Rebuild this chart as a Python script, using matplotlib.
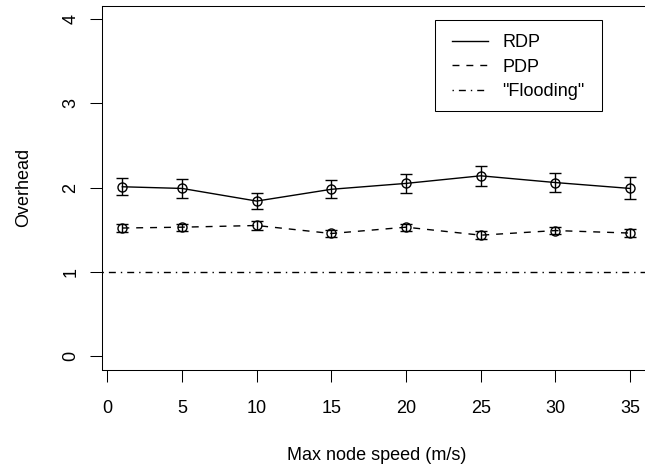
import numpy as np
import matplotlib
matplotlib.use("Agg")
import matplotlib.pyplot as plt
from matplotlib.lines import Line2D
from matplotlib.patches import Rectangle

plt.rcParams['font.family'] = ['Liberation Sans', 'DejaVu Sans']

# data
speed = [1, 5, 10, 15, 20, 25, 30, 35]
rdp = [2.01, 1.99, 1.84, 1.98, 2.05, 2.14, 2.06, 1.99]
rdp_err = [0.10, 0.11, 0.10, 0.105, 0.11, 0.12, 0.115, 0.13]
pdp = [1.52, 1.53, 1.55, 1.455, 1.53, 1.435, 1.49, 1.46]
pdp_err = [0.05, 0.043, 0.055, 0.043, 0.041, 0.047, 0.045, 0.047]
flooding = 1.0
xticks = [0, 5, 10, 15, 20, 25, 30, 35]
yticks = [0, 1, 2, 3, 4]
labels = ["RDP", "PDP", "\"Flooding\""]

W, H = 645, 468
fig = plt.figure(figsize=(W / 100, H / 100), dpi=100)
# plot region in pixels (R style, right edge cut off by the image)
left, right, top, bottom = 102, 650.4, 5.7, 369.5
ax = fig.add_axes([left / W, 1 - bottom / H, (right - left) / W, (bottom - top) / H])

fs = 13
dotdash = (0, (1, 3.6, 5, 3.6))

ax.errorbar(speed, rdp, yerr=rdp_err, color='black', lw=1.0, ls='-',
            marker='o', ms=6.5, mfc='none', mew=1.0, capsize=4.6, elinewidth=1.0)
ax.errorbar(speed, pdp, yerr=pdp_err, color='black', lw=1.0, ls=(0, (5, 5)),
            marker='o', ms=6.5, mfc='none', mew=1.0, capsize=4.6, elinewidth=1.0)
ax.axhline(flooding, color='black', lw=1.0, ls=dotdash)

ax.set_xlim(-0.36, 36.36)
ax.set_ylim(-0.16, 4.16)
ax.set_xticks(xticks)
ax.set_yticks(yticks)
ax.set_xticklabels([str(v) for v in xticks], fontsize=fs)
ax.set_yticklabels([str(v) for v in yticks], fontsize=fs, rotation=90, va='center')
ax.tick_params(direction='out', length=8.3, width=0.75, color='black')
ax.tick_params(axis='x', pad=14)
ax.tick_params(axis='y', pad=8)
for s in ax.spines.values():
    s.set_linewidth(0.75)

ax.set_xlabel("Max node speed (m/s)", fontsize=fs, va='center')
ax.xaxis.set_label_coords(0.5, (H - 455 - (H - bottom)) / (bottom - top))
ax.set_ylabel("Overhead", fontsize=fs, va='center')
ax.yaxis.set_label_coords((24 - left) / (right - left), 0.5)

# legend (R style box)
handles = [Line2D([], [], color='black', lw=1.0, ls='-'),
           Line2D([], [], color='black', lw=1.0, ls=(0, (5, 5))),
           Line2D([], [], color='black', lw=1.0, ls=dotdash)]
fig.patches.append(Rectangle((435 / W, 1 - 111 / H), (602 - 435) / W, (111 - 20) / H,
                             transform=fig.transFigure, fill=False, lw=0.75,
                             edgecolor='black'))
ax.legend(handles, labels, loc='upper left', bbox_to_anchor=(452 / W, 1 - 34 / H),
          bbox_transform=fig.transFigure, frameon=False, fontsize=fs,
          handlelength=2.0, handletextpad=0.8, labelspacing=0.42,
          borderpad=0, borderaxespad=0)

fig.savefig("out.png", dpi=100)
